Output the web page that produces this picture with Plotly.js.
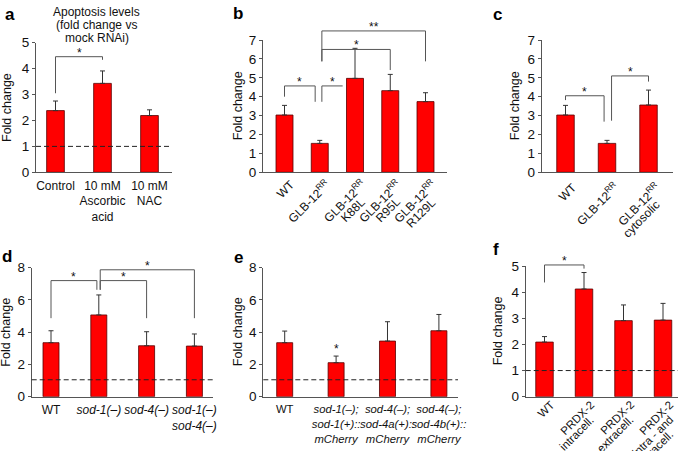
<!DOCTYPE html>
<html><head><meta charset="utf-8">
<script src="https://cdn.plot.ly/plotly-3.0.1.min.js"></script>
<style>html,body{margin:0;padding:0;background:#fff}#chart{width:685px;height:451px}</style>
</head><body><div id="chart"></div>
<script>
// ---------- DATA ----------
const catsA = ['Control', '10 mM<br>Ascorbic<br>acid', '10 mM<br>NAC'];
const valsA = [2.38, 3.43, 2.19];
const errA  = [0.37, 0.48, 0.22];

const catsB = ['WT', 'GLB-12<sup>RR</sup>', 'GLB-12<sup>RR</sup><br>K88L', 'GLB-12<sup>RR</sup><br>R95L', 'GLB-12<sup>RR</sup><br>R129L'];
const valsB = [3.03, 1.53, 4.97, 4.32, 3.74];
const errB  = [0.51, 0.16, 1.59, 0.86, 0.47];

const catsC = ['WT', 'GLB-12<sup>RR</sup>', 'GLB-12<sup>RR</sup><br>cytosolic'];
const valsC = [3.03, 1.53, 3.56];
const errC  = [0.51, 0.16, 0.79];

const catsD = ['WT', '<i>sod-1(–)</i>', '<i>sod-4(–)</i>', '<i>sod-1(–)<br>sod-4(–)</i>'];
const valsD = [3.35, 5.07, 3.16, 3.14];
const errD  = [0.74, 1.24, 0.87, 0.75];

const catsE = ['WT', '<i>sod-1(–);<br>sod-1(+)::<br>mCherry</i>', '<i>sod-4(–);<br>sod-4a(+)::<br>mCherry</i>', '<i>sod-4(–);<br>sod-4b(+)::<br>mCherry</i>'];
const valsE = [3.35, 2.11, 3.45, 4.09];
const errE  = [0.72, 0.41, 1.20, 1.01];

const catsF = ['WT', 'PRDX-2<br>intracell.', 'PRDX-2<br>extracell.', 'PRDX-2<br>intra - and<br>extracell.'];
const valsF = [2.09, 4.12, 2.91, 2.93];
const errF  = [0.21, 0.63, 0.60, 0.64];

// significance brackets: [fromIndex, toIndex, top, leftFoot, rightFoot, label]
const brA = [[0, 1, 4.46, 3.05, 4.34, '*']];
const brB = [[0, 0.87, 4.57, 4.0, 3.73, '*'], [1.06, 1.65, 4.57, 3.73, 4.57, '*'],
             [1.06, 3, 6.5, 5.87, 5.41, '*'], [1.06, 4, 7.48, 5.87, 5.87, '**']];
const brC = [[0, 0.93, 4.05, 3.82, 2.68, '*'], [1.11, 2, 5.1, 2.73, 4.8, '*']];
const brD = [[0, 0.96, 7.2, 4.87, 6.63, '*'], [1.03, 2, 7.2, 6.63, 4.87, '*'],
             [1.03, 3, 7.87, 6.63, 4.87, '*']];
const brE = [];
const brF = [[0, 1, 5.04, 4.37, 4.9, '*']];
// single stars without bracket: [index, height, label]
const starsE = [[1, 3.14, '*']];

// dashed reference levels
const refA = 1, refD = 1.05, refE = 1.05, refF = 1;

// ---------- LAYOUT GEOMETRY (pixels) ----------
const W = 685, H = 451;
const FONT = 'Liberation Sans, Arial, Helvetica, sans-serif';
const fx = px => px / W, fy = py => 1 - py / H;

const panels = [
  {id:'a', cats:catsA, vals:valsA, err:errA, br:brA, stars:[], ref:refA, lbl:12,
   L:36, R:172, y0:172.3, yT:42.7, ymax:5, dtick:1, c0:55.5, S:47, bw:17.7, rot:null, titleX:6.5,
   letter:[3, 3]},
  {id:'b', cats:catsB, vals:valsB, err:errB, br:brB, stars:[], ref:null, lbl:12,
   L:263, R:447, y0:172.3, yT:40, ymax:7, dtick:1, c0:284.5, S:35.25, bw:17, rot:{dx:8, dy:10, vs:18}, titleX:238,
   letter:[231, 2]},
  {id:'c', cats:catsC, vals:valsC, err:errC, br:brC, stars:[], ref:null, lbl:12,
   L:541.7, R:673, y0:172.3, yT:40, ymax:7, dtick:1, c0:565.5, S:41.5, bw:17.5, rot:{dx:9, dy:13, vs:17}, titleX:515,
   letter:[491, 3]},
  {id:'d', cats:catsD, vals:valsD, err:errD, br:brD, stars:[], ref:refD, lbl:12,
   L:31.7, R:213, y0:396.7, yT:267.7, ymax:8, dtick:2, c0:51, S:47.8, bw:16, rot:null, titleX:6.5,
   letter:[0, 245]},
  {id:'e', cats:catsE, vals:valsE, err:errE, br:brE, stars:starsE, ref:refE, lbl:11.3,
   L:263.3, R:458, y0:396.7, yT:267.7, ymax:8, dtick:2, c0:284.7, S:51.4, bw:16, rot:null, titleX:238,
   letter:[232, 246]},
  {id:'f', cats:catsF, vals:valsF, err:errF, br:brF, stars:[], ref:refF, lbl:11.5,
   L:525.7, R:678, y0:396.7, yT:266, ymax:5, dtick:1, c0:544.5, S:39.5, bw:17.5, rot:{dx:8, dy:6, vs:15}, titleX:498,
   letter:[491, 238]}
];

const ANG = 45;
const cs = Math.cos(ANG * Math.PI / 180), sn = Math.sin(ANG * Math.PI / 180);
const ctx = document.createElement('canvas').getContext('2d');
function textW(line, size) {
  let w = 0;
  line.replace(/<\/?i>/g, '').split(/(<sup>.*?<\/sup>)/).forEach(s => {
    if (!s) return;
    if (s.indexOf('<sup>') === 0) { ctx.font = (size * 0.7) + 'px "Liberation Sans"'; w += ctx.measureText(s.replace(/<\/?sup>/g, '')).width; }
    else { ctx.font = size + 'px "Liberation Sans"'; w += ctx.measureText(s).width; }
  });
  return w;
}

const data = [], shapes = [], annotations = [];
const layout = {
  width: W, height: H, margin: {l:0, r:0, t:0, b:0},
  paper_bgcolor: '#fff', plot_bgcolor: 'rgba(0,0,0,0)',
  showlegend: false, font: {family: FONT, color: '#111', size: 12},
  shapes: shapes, annotations: annotations
};

const AX = '#555', BR = '#555';

panels.forEach((p, i) => {
  const n = i === 0 ? '' : String(i + 1);
  const xr = 'x' + n, yr = 'y' + n, yd = yr + ' domain';
  const x0 = -(p.c0 - p.L) / p.S;
  const x1 = x0 + (p.R - p.L) / p.S;
  layout['xaxis' + n] = {
    domain: [fx(p.L), fx(p.R)], anchor: yr, type: 'category', range: [x0, x1],
    showline: true, linecolor: AX, linewidth: 1, ticks: '', showgrid: false, zeroline: false,
    showticklabels: !p.rot, tickangle: 0, tickfont: {family: FONT, size: p.lbl, color: '#111'},
    ticklabelstandoff: 2, fixedrange: true, automargin: false
  };
  layout['yaxis' + n] = {
    domain: [fy(p.y0), fy(p.yT)], anchor: xr, range: [0, p.ymax], dtick: p.dtick, tick0: 0,
    showline: true, linecolor: AX, linewidth: 1, ticks: 'outside', ticklen: 3, tickcolor: AX,
    showgrid: false, zeroline: false, tickfont: {family: FONT, size: 13.5, color: '#111'},
    fixedrange: true, automargin: false
  };
  data.push({
    type: 'bar', x: p.cats, y: p.vals, xaxis: xr, yaxis: yr, width: p.bw / p.S,
    marker: {color: '#ff0000', line: {color: '#550000', width: 0.8}},
    error_y: {type: 'data', symmetric: false, array: p.err, arrayminus: p.err.map(() => 0),
              color: '#333', thickness: 1, width: 2.5},
    hoverinfo: 'skip'
  });
  // rotated category labels: every line rotated, line ends stacked under the first one
  if (p.rot) {
    p.cats.forEach((lab, k) => {
      lab.split('<br>').forEach((ln, j) => {
        const w = textW(ln, p.lbl);
        const cx = p.rot.dx - cs * w / 2, cy = p.rot.dy + sn * w / 2 + p.rot.vs * j;
        annotations.push({xref: xr, yref: yd, x: k, y: 0, xshift: cx, yshift: -cy, text: ln,
          textangle: -ANG, showarrow: false, xanchor: 'center', yanchor: 'middle', borderpad: 0,
          font: {family: FONT, size: p.lbl, color: '#111'}});
      });
    });
  }
  if (p.ref !== null) {
    shapes.push({type: 'line', xref: xr + ' domain', yref: yr, x0: 0, x1: 1, y0: p.ref, y1: p.ref,
                 line: {color: '#222', width: 1, dash: '5px,3px'}});
  }
  p.br.forEach(b => {
    const [a, c, top, lf, rf, lab] = b;
    const ln = {color: BR, width: 1};
    shapes.push({type: 'line', xref: xr, yref: yd, x0: a, x1: a, y0: lf / p.ymax, y1: top / p.ymax, line: ln});
    shapes.push({type: 'line', xref: xr, yref: yd, x0: a, x1: c, y0: top / p.ymax, y1: top / p.ymax, line: ln});
    if (rf !== top) shapes.push({type: 'line', xref: xr, yref: yd, x0: c, x1: c, y0: rf / p.ymax, y1: top / p.ymax, line: ln});
    annotations.push({xref: xr, yref: yd, x: (a + c) / 2, y: top / p.ymax, text: lab, showarrow: false,
                      xanchor: 'center', yanchor: 'middle', yshift: 4, font: {family: FONT, size: 12, color: '#111'}});
  });
  p.stars.forEach(s => {
    annotations.push({xref: xr, yref: yd, x: s[0], y: s[1] / p.ymax, text: s[2], showarrow: false,
                      xanchor: 'center', yanchor: 'middle', yshift: -3, font: {family: FONT, size: 12, color: '#111'}});
  });
  annotations.push({xref: 'paper', yref: 'paper', x: fx(p.titleX), y: fy((p.y0 + p.yT) / 2),
                    text: 'Fold change', textangle: -90, showarrow: false, xanchor: 'center', yanchor: 'middle',
                    borderpad: 0, font: {family: FONT, size: 12.5, color: '#111'}});
  annotations.push({xref: 'paper', yref: 'paper', x: fx(p.letter[0]), y: fy(p.letter[1]), text: '<b>' + p.id + '</b>',
                    showarrow: false, xanchor: 'left', yanchor: 'top', font: {family: FONT, size: 17, color: '#000'}});
});

// panel a title
const titleLines = ['Apoptosis levels', '(fold change vs', 'mock RNAi)'];
const titleY = [12.5, 25.5, 38.5];
titleLines.forEach((t, k) => annotations.push({xref: 'paper', yref: 'paper', x: fx(96.7), y: fy(titleY[k]), text: t,
  showarrow: false, xanchor: 'center', yanchor: 'middle', borderpad: 0, font: {family: FONT, size: 12, color: '#111'}}));

Plotly.newPlot('chart', data, layout, {staticPlot: true, displayModeBar: false});
</script></body></html>
